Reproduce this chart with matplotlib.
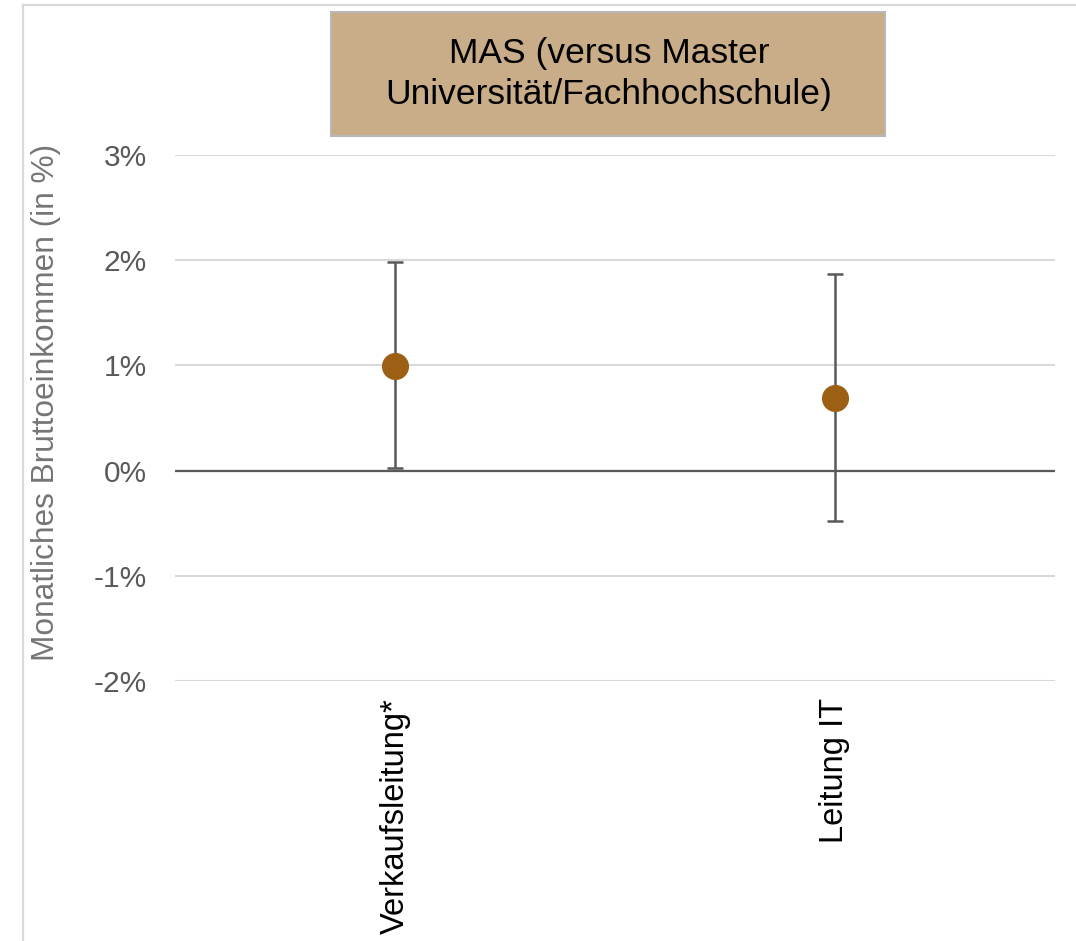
import matplotlib.pyplot as plt
from matplotlib.patches import Rectangle
from matplotlib.lines import Line2D

# Werte in Prozent
kategorien = ["Verkaufsleitung*", "Leitung IT"]
schaetzung = [0.99, 0.69]
ki_unten = [0.02, -0.48]
ki_oben = [1.98, 1.87]
y_ticks = [-2, -1, 0, 1, 2, 3]

plt.rcParams['font.family'] = ['Liberation Sans', 'DejaVu Sans']

W, H = 1076, 941
fig = plt.figure(figsize=(W / 100, H / 100), dpi=100)
fig.patch.set_facecolor("white")

# Rahmen links und oben
fig.add_artist(Line2D([23 / W, 23 / W], [0, 1 - 5 / H], transform=fig.transFigure,
                      color="#D9D9D9", lw=1.6))
fig.add_artist(Line2D([23 / W, 1], [1 - 5 / H, 1 - 5 / H], transform=fig.transFigure,
                      color="#D9D9D9", lw=1.6))

ax = fig.add_axes([175 / W, (H - 681) / H, (1055 - 175) / W, (681 - 155) / H])

x = [i + 0.5 for i in range(len(kategorien))]
fehler_unten = [s - u for s, u in zip(schaetzung, ki_unten)]
fehler_oben = [o - s for s, o in zip(schaetzung, ki_oben)]

ax.axhline(0, color="#595959", lw=1.6, zorder=2)
ax.errorbar(x, schaetzung, yerr=[fehler_unten, fehler_oben], fmt="none",
            ecolor="#595959", elinewidth=1.8, capsize=6, capthick=1.8, zorder=3)
ax.plot(x, schaetzung, "o", color="#9C5F14", markersize=18.5, zorder=4)

ax.set_xlim(0, len(kategorien))
ax.set_ylim(-2, 3)
ax.set_yticks(y_ticks)
ax.set_yticklabels([f"{t}%" for t in y_ticks])
ax.set_xticks(x)
ax.set_xticklabels(kategorien, rotation=90, fontsize=23.5, color="black",
                   va="top", ha="center")

ax.yaxis.grid(True, color="#D9D9D9", lw=1.5)
ax.set_axisbelow(True)
for s in ax.spines.values():
    s.set_visible(False)
ax.tick_params(axis="y", length=0, pad=20, labelsize=21.5, labelcolor="#595959")
ax.tick_params(axis="x", length=0, pad=12)

ax.set_ylabel("Monatliches Bruttoeinkommen (in %)", fontsize=22.8, color="#757575")
ax.yaxis.set_label_coords((61 - 175) / (1055 - 175), (681 - 402) / (681 - 155))

# Titelkasten
fig.add_artist(Rectangle((331 / W, 1 - 136 / H), (885 - 331) / W, (136 - 12) / H,
                         transform=fig.transFigure, facecolor="#C9AD88",
                         edgecolor="#B8B8B8", lw=1.5))
fig.text(609 / W, 1 - 74 / H, "MAS (versus Master\nUniversität/Fachhochschule)",
         ha="center", va="center", fontsize=25.5, color="black", linespacing=1.3)

fig.savefig("out.png", dpi=100)
